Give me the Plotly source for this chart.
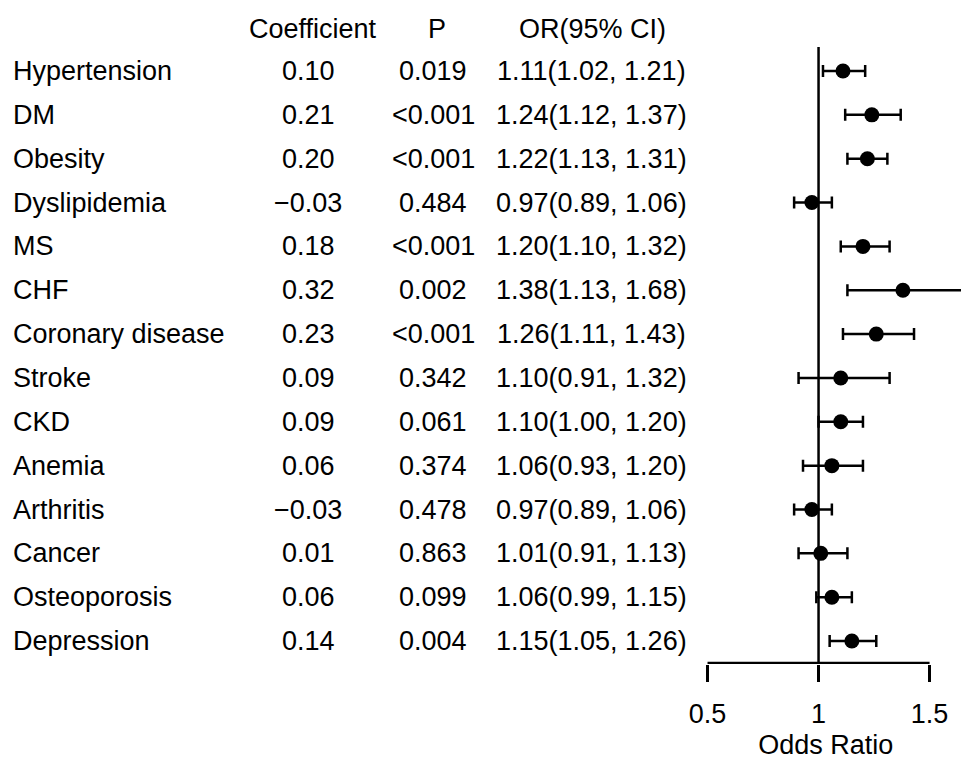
import plotly.graph_objects as go

labels = ["Hypertension", "DM", "Obesity", "Dyslipidemia", "MS", "CHF",
          "Coronary disease", "Stroke", "CKD", "Anemia", "Arthritis",
          "Cancer", "Osteoporosis", "Depression"]
coef = ["0.10", "0.21", "0.20", "\u22120.03", "0.18", "0.32", "0.23", "0.09",
        "0.09", "0.06", "\u22120.03", "0.01", "0.06", "0.14"]
pvals = ["0.019", "<0.001", "<0.001", "0.484", "<0.001", "0.002", "<0.001",
         "0.342", "0.061", "0.374", "0.478", "0.863", "0.099", "0.004"]
odds = [1.11, 1.24, 1.22, 0.97, 1.20, 1.38, 1.26, 1.10, 1.10, 1.06, 0.97, 1.01, 1.06, 1.15]
lower = [1.02, 1.12, 1.13, 0.89, 1.10, 1.13, 1.11, 0.91, 1.00, 0.93, 0.89, 0.91, 0.99, 1.05]
upper = [1.21, 1.37, 1.31, 1.06, 1.32, 1.68, 1.43, 1.32, 1.20, 1.20, 1.06, 1.13, 1.15, 1.26]
headers = ["Coefficient", "P", "OR(95% CI)"]
tick_vals = [0.5, 1, 1.5]
tick_text = ["0.5", "1", "1.5"]

W, H = 961, 760
FONT = "Liberation Sans, Arial, Helvetica, sans-serif"
FS = 27
LW = 2.5
n = len(labels)
rows = list(range(n))
row_px = 43.85
top_px = 71.0
bottom_px = 664.0
xscale = 222.5
x1_px = 818.25
left_px = 690

x_left = 1 + (left_px - x1_px) / xscale
x_right = 1 + (W - x1_px) / xscale
y_bottom = (bottom_px - top_px) / row_px
y_top = -top_px / row_px
base_y = 13.5

fig = go.Figure()

# reference vertical line at OR = 1
fig.add_trace(go.Scatter(x=[1, 1], y=[-0.55, base_y], mode="lines",
                         line=dict(color="black", width=LW), hoverinfo="skip"))
# axis baseline from 0.5 to 1.5
fig.add_trace(go.Scatter(x=[tick_vals[0], tick_vals[-1]], y=[base_y, base_y], mode="lines",
                         line=dict(color="black", width=LW), hoverinfo="skip"))
# points with CI
fig.add_trace(go.Scatter(
    x=odds, y=rows, mode="markers",
    marker=dict(color="black", size=15, line=dict(width=0)),
    error_x=dict(type="data", symmetric=False,
                 array=[u - o for u, o in zip(upper, odds)],
                 arrayminus=[o - l for o, l in zip(odds, lower)],
                 color="black", thickness=LW, width=6),
))

ann = []
col_val_x = [307, 432, 591]
col_head_x = [312, 436, 592]
for i in rows:
    ann.append(dict(x=9 / W, y=i, xref="paper", yref="y", text=labels[i],
                    xanchor="left", yanchor="middle", showarrow=False))
    ann.append(dict(x=col_val_x[0] / W, y=i, xref="paper", yref="y", text=coef[i],
                    xanchor="center", yanchor="middle", showarrow=False))
    ann.append(dict(x=col_val_x[1] / W, y=i, xref="paper", yref="y", text=pvals[i],
                    xanchor="center", yanchor="middle", showarrow=False))
    ortxt = f"{odds[i]:.2f}({lower[i]:.2f}, {upper[i]:.2f})"
    ann.append(dict(x=col_val_x[2] / W, y=i, xref="paper", yref="y", text=ortxt,
                    xanchor="center", yanchor="middle", showarrow=False))
for hx, ht in zip(col_head_x, headers):
    ann.append(dict(x=hx / W, y=-0.95, xref="paper", yref="y", text=ht,
                    xanchor="center", yanchor="middle", showarrow=False))

fig.update_layout(
    width=W, height=H,
    margin=dict(l=0, r=0, t=0, b=H - bottom_px),
    paper_bgcolor="white", plot_bgcolor="white",
    showlegend=False,
    font=dict(family=FONT, size=FS, color="black"),
    annotations=ann,
    xaxis=dict(domain=[left_px / W, 1], range=[x_left, x_right],
               showgrid=False, zeroline=False, showline=False,
               tickmode="array", tickvals=tick_vals, ticktext=tick_text,
               ticks="outside", ticklen=17, tickwidth=LW, tickcolor="black",
               ticklabelstandoff=9,
               tickfont=dict(family=FONT, size=FS, color="black"),
               title=dict(text="Odds Ratio", font=dict(family=FONT, size=FS, color="black"),
                          standoff=9)),
    yaxis=dict(range=[y_bottom, y_top], visible=False),
)

fig.write_html("out.html",
               config={"displayModeBar": False},
               post_script="document.body.style.margin='0';document.body.style.overflow='hidden';")
